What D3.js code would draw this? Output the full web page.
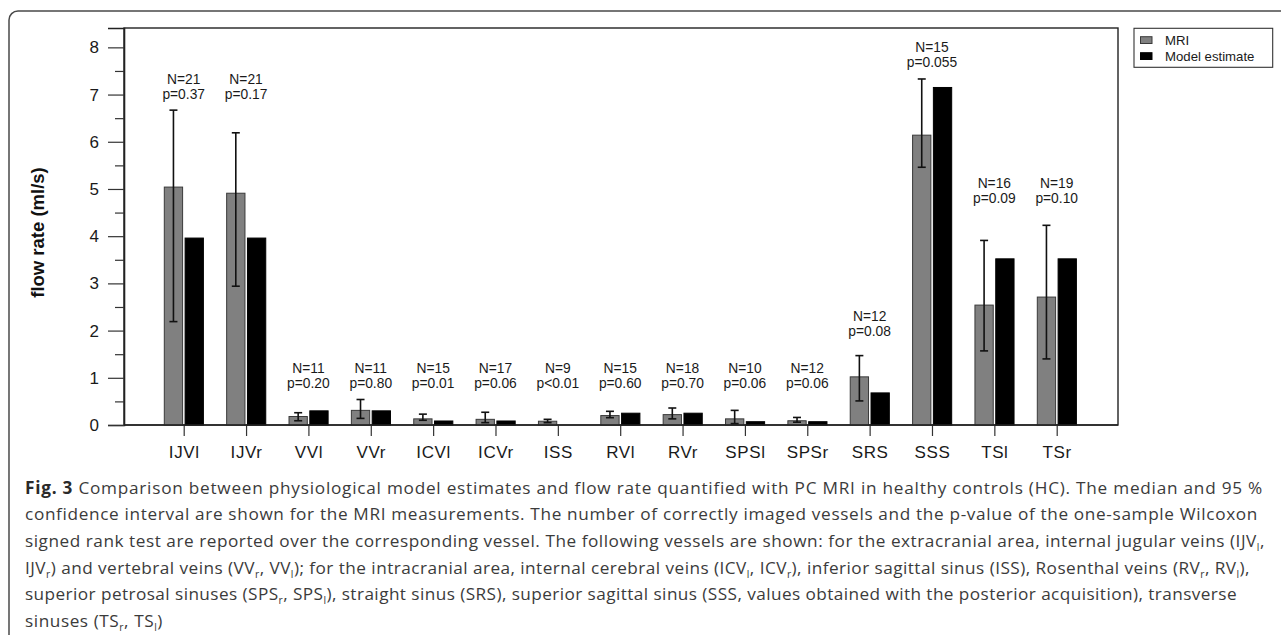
<!DOCTYPE html>
<html>
<head>
<meta charset="utf-8">
<script src="https://cdn.jsdelivr.net/npm/d3@7"></script>
<style>
  html, body { margin: 0; padding: 0; background: #fff; }
  svg { display: block; }
</style>
</head>
<body>
<svg id="fig" width="1281" height="635"></svg>
<script>
// Vessels, in plotting order
const categories = ["IJVl","IJVr","VVl","VVr","ICVl","ICVr","ISS","RVl","RVr","SPSl","SPSr","SRS","SSS","TSl","TSr"];
// MRI median flow rate (ml/s) and its 95 % confidence interval
const mriMedian = [5.04, 4.91, 0.18, 0.31, 0.13, 0.12, 0.08, 0.20, 0.22, 0.13, 0.09, 1.02, 6.14, 2.54, 2.71];
const ciLow     = [2.19, 2.94, 0.09, 0.14, 0.10, 0.05, 0.05, 0.155, 0.13, 0.03, 0.06, 0.51, 5.46, 1.57, 1.40];
const ciHigh    = [6.67, 6.19, 0.26, 0.54, 0.23, 0.27, 0.12, 0.29, 0.36, 0.31, 0.16, 1.47, 7.33, 3.91, 4.23];
// Physiological model estimate (ml/s)
const modelEstimate = [3.96, 3.96, 0.30, 0.30, 0.085, 0.085, 0, 0.25, 0.25, 0.07, 0.07, 0.68, 7.15, 3.52, 3.52];
// Number of imaged vessels and Wilcoxon p-values
const nValues = [21, 21, 11, 11, 15, 17, 9, 15, 18, 10, 12, 12, 15, 16, 19];
const pValues = ["p=0.37","p=0.17","p=0.20","p=0.80","p=0.01","p=0.06","p<0.01","p=0.60","p=0.70","p=0.06","p=0.06","p=0.08","p=0.055","p=0.09","p=0.10"];
// Flow level (ml/s) at which each N / p annotation sits
const labelLevel = [7.33, 7.33, 1.21, 1.21, 1.21, 1.21, 1.21, 1.21, 1.21, 1.21, 1.21, 2.31, 8.01, 5.13, 5.13];
// y-axis ticks
const majorTicks = [0, 1, 2, 3, 4, 5, 6, 7, 8];
const minorTicks = [0.5, 1.5, 2.5, 3.5, 4.5, 5.5, 6.5, 7.5];
const seriesNames = ["MRI", "Model estimate"];

const svg = d3.select("#fig");
const AX = "'Liberation Sans', Arial, sans-serif";

// outer panel frame
svg.append("rect")
  .attr("x", 9).attr("y", 11).attr("width", 1320).attr("height", 700)
  .attr("rx", 9).attr("fill", "none").attr("stroke", "#4a4a4a").attr("stroke-width", 1.5);

const plot = { left: 124, right: 1118, top: 28, bottom: 425 };

const y = d3.scaleLinear().domain([0, 8.41]).range([plot.bottom, plot.top]);
const x = d3.scalePoint().domain(categories).range([183.7, 1056.7]);

const g = svg.append("g");

// plot frame
g.append("rect")
  .attr("x", plot.left).attr("y", plot.top)
  .attr("width", plot.right - plot.left).attr("height", plot.bottom - plot.top)
  .attr("fill", "none").attr("stroke", "#222").attr("stroke-width", 1.4);

// y axis: major ticks with labels, then minor ticks
const yAxis = d3.axisLeft(y).tickValues(majorTicks).tickSize(16).tickPadding(9).tickFormat(d3.format("d"));
const ya = g.append("g").attr("transform", `translate(${plot.left},0)`).call(yAxis);
ya.select(".domain").attr("stroke", "#222").attr("stroke-width", 1.6);
ya.selectAll(".tick line").attr("stroke", "#333").attr("stroke-width", 1.2);
ya.selectAll(".tick text").attr("font-family", AX).attr("font-size", 17).attr("fill", "#1a1a1a");

const yMinor = d3.axisLeft(y).tickValues(minorTicks).tickSize(9).tickFormat("");
const ym = g.append("g").attr("transform", `translate(${plot.left},0)`).call(yMinor);
ym.select(".domain").remove();
ym.selectAll(".tick line").attr("stroke", "#333").attr("stroke-width", 1.2);

// x axis
const xAxis = d3.axisBottom(x).tickSize(11).tickPadding(10);
const xa = g.append("g").attr("transform", `translate(0,${plot.bottom})`).call(xAxis);
xa.select(".domain").remove();
xa.selectAll(".tick line").attr("stroke", "#333").attr("stroke-width", 1.2);
xa.selectAll(".tick text").attr("font-family", AX).attr("font-size", 17).attr("fill", "#1a1a1a")
  .attr("letter-spacing", "0.6px");

// y-axis title
svg.append("text")
  .attr("transform", `translate(44,${(plot.top + plot.bottom) / 2 + 6}) rotate(-90)`)
  .attr("text-anchor", "middle")
  .attr("font-family", AX).attr("font-weight", "bold").attr("font-size", 18.5).attr("fill", "#111")
  .text("flow rate (ml/s)");

// bars
const rows = categories.map((c, i) => ({
  c, mri: mriMedian[i], lo: ciLow[i], hi: ciHigh[i], model: modelEstimate[i],
  n: nValues[i], p: pValues[i], lvl: labelLevel[i]
}));
const barW = 18.3, gap = 1.1;

g.selectAll("rect.mri").data(rows).join("rect").attr("class", "mri")
  .attr("x", d => x(d.c) - gap - barW).attr("width", barW)
  .attr("y", d => y(d.mri)).attr("height", d => y(0) - y(d.mri))
  .attr("fill", "#808080").attr("stroke", "#3a3a3a").attr("stroke-width", 1);

g.selectAll("rect.model").data(rows.filter(d => d.model > 0)).join("rect").attr("class", "model")
  .attr("x", d => x(d.c) + gap + 0.3).attr("width", barW)
  .attr("y", d => y(d.model)).attr("height", d => y(0) - y(d.model))
  .attr("fill", "#000").attr("stroke", "#000").attr("stroke-width", 1);

// bottom axis line drawn over bar bases
g.append("line").attr("x1", plot.left).attr("x2", plot.right)
  .attr("y1", plot.bottom).attr("y2", plot.bottom).attr("stroke", "#222").attr("stroke-width", 1.6);

// confidence interval whiskers
const eb = g.selectAll("g.err").data(rows).join("g").attr("class", "err")
  .attr("transform", d => `translate(${x(d.c) - gap - barW / 2},0)`);
eb.append("line").attr("y1", d => y(d.lo)).attr("y2", d => y(d.hi))
  .attr("stroke", "#111").attr("stroke-width", 1.6);
eb.append("line").attr("x1", -4).attr("x2", 4).attr("y1", d => y(d.hi)).attr("y2", d => y(d.hi))
  .attr("stroke", "#111").attr("stroke-width", 1.6);
eb.append("line").attr("x1", -4).attr("x2", 4).attr("y1", d => y(d.lo)).attr("y2", d => y(d.lo))
  .attr("stroke", "#111").attr("stroke-width", 1.6);

// N and p annotations
const ann = g.selectAll("text.ann").data(rows).join("text").attr("class", "ann")
  .attr("text-anchor", "middle").attr("font-family", AX).attr("font-size", 13.8).attr("fill", "#1a1a1a");
ann.append("tspan").attr("x", d => x(d.c)).attr("y", d => y(d.lvl) + 5).text(d => "N=" + d.n);
ann.append("tspan").attr("x", d => x(d.c)).attr("y", d => y(d.lvl) + 20.5).text(d => d.p);

// legend
const lg = svg.append("g");
lg.append("rect").attr("x", 1134).attr("y", 28.3).attr("width", 138.7).attr("height", 39)
  .attr("fill", "#fff").attr("stroke", "#333").attr("stroke-width", 1.1);
const swatch = [{ fill: "#808080", stroke: "#3a3a3a" }, { fill: "#000", stroke: "#000" }];
seriesNames.forEach((name, i) => {
  lg.append("rect").attr("x", 1140.5).attr("y", 36.7 + i * 16).attr("width", 11.5).attr("height", 6.8)
    .attr("fill", swatch[i].fill).attr("stroke", swatch[i].stroke).attr("stroke-width", 1);
  lg.append("text").attr("x", 1165).attr("y", 44.5 + i * 16)
    .attr("font-family", AX).attr("font-size", 13.2).attr("fill", "#1a1a1a").text(name);
});

// caption
const CAP = "'Open Sans', 'Noto Sans', sans-serif";
const captionLines = [
  [["b", "Fig. 3"], ["t", " Comparison between physiological model estimates and flow rate quantified with PC MRI in healthy controls (HC). The median and 95 %"]],
  [["t", "confidence interval are shown for the MRI measurements. The number of correctly imaged vessels and the p-value of the one-sample Wilcoxon"]],
  [["t", "signed rank test are reported over the corresponding vessel. The following vessels are shown: for the extracranial area, internal jugular veins (IJV"], ["s", "l"], ["t", ","]],
  [["t", "IJV"], ["s", "r"], ["t", ") and vertebral veins (VV"], ["s", "r"], ["t", ", VV"], ["s", "l"], ["t", "); for the intracranial area, internal cerebral veins (ICV"], ["s", "l"], ["t", ", ICV"], ["s", "r"], ["t", "), inferior sagittal sinus (ISS), Rosenthal veins (RV"], ["s", "r"], ["t", ", RV"], ["s", "l"], ["t", "),"]],
  [["t", "superior petrosal sinuses (SPS"], ["s", "r"], ["t", ", SPS"], ["s", "l"], ["t", "), straight sinus (SRS), superior sagittal sinus (SSS, values obtained with the posterior acquisition), transverse"]],
  [["t", "sinuses (TS"], ["s", "r"], ["t", ", TS"], ["s", "l"], ["t", ")"]]
];
// right end of each full caption line
const lineEnds = [1263, 1258, 1265, 1250, 1237, null];
const cap = svg.append("g").attr("font-family", CAP).attr("fill", "#3b3b3b");
const capSize = 17.2, capLeft = 25;
const capText = captionLines.map((parts, li) => {
  const t = cap.append("text").attr("x", capLeft).attr("y", 493.5 + li * 26.7).attr("font-size", capSize);
  let prevSub = false;
  parts.forEach(([k, s]) => {
    const sp = t.append("tspan").text(s);
    if (k === "b") sp.attr("font-weight", "bold").attr("fill", "#2a2a2a");
    if (k === "s") sp.attr("font-size", "0.6em").attr("dy", 4);
    else if (prevSub) sp.attr("dy", -4);
    prevSub = k === "s";
  });
  return t;
});
// spread each full line across its measured width
let lsSum = 0, lsCount = 0;
capText.forEach((t, i) => {
  if (lineEnds[i] == null) return;
  const natural = t.node().getComputedTextLength();
  const chars = t.text().length;
  const ls = (lineEnds[i] - capLeft - natural) / chars;
  t.attr("letter-spacing", ls + "px");
  lsSum += ls; lsCount++;
});
capText.forEach((t, i) => {
  if (lineEnds[i] == null) t.attr("letter-spacing", (lsSum / lsCount) + "px");
});
</script>
</body>
</html>
